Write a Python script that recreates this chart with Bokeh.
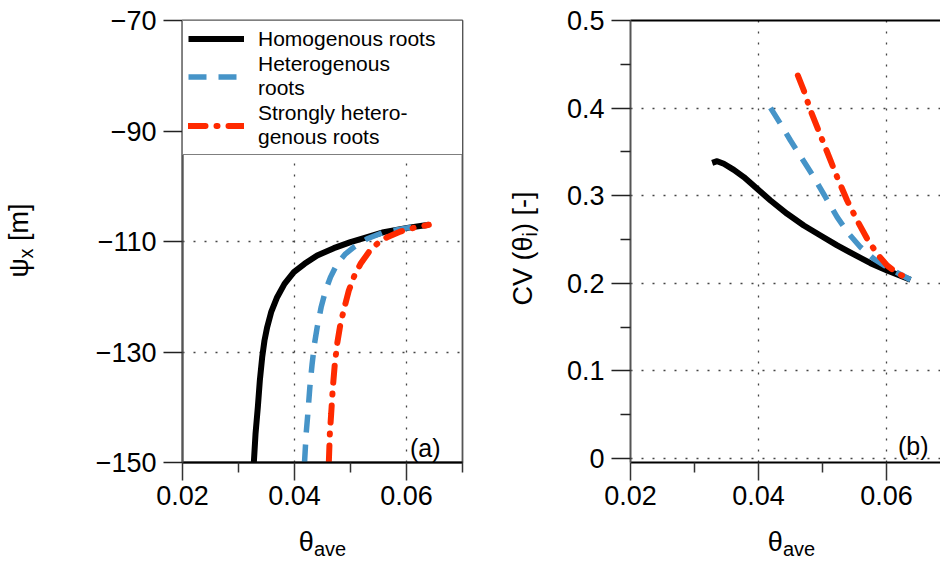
import math
from bokeh.plotting import figure
from bokeh.layouts import row
from bokeh.models import (Range1d, FixedTicker, Legend, LegendItem, Label, LinearAxis)
from bokeh.embed import file_html
from bokeh.resources import INLINE

FONT = "Liberation Sans"

# ---------------- data ----------------
# panel (a): psi_x [m] vs theta_ave
theta_homo_a = [0.03274, 0.03304, 0.03345, 0.03381, 0.03423, 0.03464, 0.03512, 0.03583, 0.03690, 0.03821,
                0.03988, 0.04179, 0.04405, 0.04702, 0.05000, 0.05298, 0.05595, 0.06012, 0.06399]
psi_homo = [-150.0, -144.81, -139.99, -135.16, -130.94, -127.92, -125.51, -122.79, -120.08, -117.66,
            -115.55, -114.04, -112.53, -111.21, -110.12, -109.22, -108.31, -107.53, -106.98]

theta_het_a = [0.04179, 0.04208, 0.04238, 0.04274, 0.04315, 0.04357, 0.04405, 0.04476, 0.04554, 0.04643,
               0.04762, 0.04911, 0.05060, 0.05298, 0.05595, 0.06012, 0.06399]
psi_het = [-150.0, -144.81, -141.19, -136.37, -132.14, -128.52, -125.51, -121.88, -118.87, -116.45,
           -114.04, -112.23, -111.02, -109.51, -108.31, -107.53, -106.98]

theta_shet_a = [0.04613, 0.04631, 0.04655, 0.04685, 0.04720, 0.04762, 0.04821, 0.04893, 0.04970, 0.05071,
                0.05179, 0.05327, 0.05476, 0.05655, 0.05893, 0.06131, 0.06399]
psi_shet = [-150.0, -144.81, -141.19, -136.37, -132.14, -128.52, -124.90, -121.88, -118.87, -116.15,
            -114.04, -111.93, -110.42, -109.22, -108.19, -107.53, -106.98]

# panel (b): CV(theta_i) [-] vs theta_ave
theta_homo_b = [0.03276, 0.03354, 0.03458, 0.03615, 0.03771, 0.03979, 0.04188, 0.04448, 0.04708, 0.04969,
                0.05229, 0.05490, 0.05750, 0.06010, 0.06375]
cv_homo = [0.3375, 0.3394, 0.3364, 0.3295, 0.3212, 0.3078, 0.2945, 0.2793, 0.2660, 0.2546,
           0.2432, 0.2329, 0.2230, 0.2146, 0.2040]

theta_het_b = [0.04188, 0.04344, 0.04500, 0.04682, 0.04865, 0.05047, 0.05229, 0.05411, 0.05594, 0.05802,
               0.06010, 0.06219, 0.06375]
cv_het = [0.4003, 0.3820, 0.3630, 0.3421, 0.3212, 0.2983, 0.2755, 0.2565, 0.2412, 0.2279,
          0.2184, 0.2100, 0.2040]

theta_shet_b = [0.04615, 0.04708, 0.04813, 0.04917, 0.05021, 0.05125, 0.05229, 0.05385, 0.05542, 0.05698,
                0.05854, 0.06010, 0.06167, 0.06375]
cv_shet = [0.4372, 0.4201, 0.3973, 0.3782, 0.3592, 0.3402, 0.3212, 0.2945, 0.2717, 0.2508,
           0.2336, 0.2203, 0.2116, 0.2040]

series_names = ["Homogenous roots", "Heterogenous\nroots", "Strongly hetero-\ngenous roots"]

x_ticks = [0.02, 0.04, 0.06]
x_minor_a = [0.03, 0.05, 0.07]
x_minor_b = [0.03, 0.05, 0.07]
psi_ticks = [-150, -130, -110, -90, -70]
psi_labels = {-150: "\u2212150", -130: "\u2212130", -110: "\u2212110", -90: "\u221290", -70: "\u221270"}
cv_ticks = [0.0, 0.1, 0.2, 0.3, 0.4, 0.5]
cv_minor = [0.05, 0.15, 0.25, 0.35, 0.45]
cv_labels = {0.0: "0", 0.1: "0.1", 0.2: "0.2", 0.3: "0.3", 0.4: "0.4", 0.5: "0.5"}
x_labels = {0.02: "0.02", 0.04: "0.04", 0.06: "0.06"}

# ---------------- styles ----------------
C_BLACK = "#000000"
C_BLUE = "#4694c8"
C_RED = "#ff2a00"
LW_BLACK = 6
LW_BLUE = 5.5
LW_RED = 6
DASH_BLUE = "18 12"
DASH_RED = "17 11 1 11"
GRID_DASH = "2 9"
TICK_FS = "27px"
AX_FS = 27
SUB_FS = 20
BASE_FIX = 12  # label anchor correction (px, towards the top of the glyphs)

# approximate Arial advance widths (em), used only to lay out title pieces
ADV = {"θ": 0.556, "a": 0.556, "v": 0.5, "e": 0.556, "ψ": 0.70, "x": 0.5, " ": 0.278,
       "[": 0.278, "]": 0.278, "m": 0.833, "C": 0.722, "V": 0.667, "(": 0.333, ")": 0.333,
       "i": 0.222, "-": 0.333}


def tw(s, size):
    return sum(ADV.get(ch, 0.556) for ch in s) * size


def style_axes(p):
    for ax in p.xaxis:
        ax.axis_line_color = "black"
        ax.axis_line_width = 1.8
        ax.major_tick_line_color = "#333333"
        ax.minor_tick_line_color = "#333333"
        ax.major_tick_line_width = 1.5
        ax.minor_tick_line_width = 1.5
        ax.major_tick_out = 18
        ax.major_tick_in = 0
        ax.minor_tick_out = 10
        ax.minor_tick_in = 0
        ax.major_label_standoff = 5
        ax.major_label_text_font = FONT
        ax.major_label_text_font_size = TICK_FS
        ax.major_label_text_color = "black"
    for ax in p.yaxis:
        ax.axis_line_color = "#555555"
        ax.axis_line_width = 2
        ax.major_tick_line_color = "#222222"
        ax.minor_tick_line_color = "#222222"
        ax.major_tick_line_width = 1.5
        ax.minor_tick_line_width = 1.5
        ax.major_tick_out = 19
        ax.major_tick_in = 0
        ax.minor_tick_out = 10
        ax.minor_tick_in = 0
        ax.major_label_standoff = 7
        ax.major_label_text_font = FONT
        ax.major_label_text_font_size = TICK_FS
        ax.major_label_text_color = "black"
    p.xgrid.grid_line_color = "#444444"
    p.ygrid.grid_line_color = "#444444"
    p.xgrid.grid_line_width = 1.3
    p.ygrid.grid_line_width = 1.3
    p.xgrid.grid_line_dash = GRID_DASH
    p.ygrid.grid_line_dash = GRID_DASH


def piece(p, side, text, size, x, y, angle=0.0):
    """A piece of an axis title, in canvas pixels, kept in a side panel so it is not clipped.
    (x, y) is the wanted baseline start of the piece."""
    if angle == 0.0:
        y = y - BASE_FIX
    else:
        x = x - BASE_FIX
    p.add_layout(Label(x=x, y=y, x_units="canvas", y_units="canvas", text=text,
                       text_font=FONT, text_font_size=f"{size}px", text_color="black",
                       angle=angle, text_align="left", text_baseline="alphabetic"), side)


# ---------------- panel (a) ----------------
W1 = 482
pa = figure(width=W1, height=566, output_backend="svg", toolbar_location=None,
            x_range=Range1d(0.02, 0.07), y_range=Range1d(-150, -70),
            min_border_left=182, min_border_right=W1 - 462, min_border_top=20, min_border_bottom=104,
            background_fill_color="white", border_fill_color="white")
pa.outline_line_color = "#555555"
pa.outline_line_width = 1.8
ra1 = pa.line(theta_homo_a, psi_homo, line_color=C_BLACK, line_width=LW_BLACK, line_join="round")
ra2 = pa.line(theta_het_a, psi_het, line_color=C_BLUE, line_width=LW_BLUE, line_dash=DASH_BLUE)
ra3 = pa.line(theta_shet_a, psi_shet, line_color=C_RED, line_width=LW_RED, line_dash=DASH_RED,
              line_cap="round")
pa.xaxis.ticker = FixedTicker(ticks=x_ticks, minor_ticks=x_minor_a)
pa.xaxis.major_label_overrides = x_labels
pa.yaxis.ticker = FixedTicker(ticks=psi_ticks, minor_ticks=[])
pa.yaxis.major_label_overrides = psi_labels
style_axes(pa)
pa.yaxis.minor_tick_line_color = None
pa.xgrid.ticker = FixedTicker(ticks=[0.04, 0.06])
pa.ygrid.ticker = FixedTicker(ticks=[-130, -110, -90])

legend = Legend(items=[LegendItem(label=series_names[0], renderers=[ra1]),
                       LegendItem(label=series_names[1], renderers=[ra2]),
                       LegendItem(label=series_names[2], renderers=[ra3])],
                location="top_left", margin=0, padding=5, spacing=1,
                glyph_width=56, glyph_height=25, label_standoff=14, label_width=200, label_height=25,
                label_text_font=FONT, label_text_font_size="21px", label_text_line_height=1.32,
                label_text_color="black",
                border_line_color="black", border_line_width=1.8,
                background_fill_color="white", background_fill_alpha=1.0)
pa.add_layout(legend)

# x title of (a): theta + subscript "ave"
xa0 = 322 - (tw("θ", AX_FS) + tw("ave", SUB_FS)) / 2
piece(pa, "right", "θ", AX_FS, xa0, 553)
piece(pa, "below", "ave", SUB_FS, xa0 + tw("θ", AX_FS), 560)
# y title of (a): psi + subscript "x" + " [m]" (rotated)
ya0 = 277
ya1 = ya0 - tw("ψ", AX_FS)
ya2 = ya1 - tw("x", SUB_FS) - tw(" ", AX_FS)
piece(pa, "left", "ψ", AX_FS, 30, ya0, math.pi / 2)
piece(pa, "left", "x", SUB_FS, 37, ya1, math.pi / 2)
piece(pa, "left", "[m]", AX_FS, 30, ya2, math.pi / 2)

pa.add_layout(Label(x=258, y=15, x_units="screen", y_units="screen", text="(a)", text_font=FONT,
                    text_font_size="25px", text_color="black", text_align="right",
                    text_baseline="alphabetic"))

# ---------------- panel (b) ----------------
W2 = 940 - W1
OX = W1  # canvas x offset of panel (b)
pb = figure(width=W2, height=566, output_backend="svg", toolbar_location=None,
            x_range=Range1d(0.02, 0.02 + (940 - 630) / 128 * 0.02), y_range=Range1d(-0.0046, 0.5),
            min_border_left=630 - W1, min_border_right=0, min_border_top=20, min_border_bottom=104,
            background_fill_color="white", border_fill_color="white")
pb.outline_line_color = None
pb.line(theta_homo_b, cv_homo, line_color=C_BLACK, line_width=LW_BLACK, line_join="round")
pb.line(theta_het_b, cv_het, line_color=C_BLUE, line_width=LW_BLUE, line_dash=DASH_BLUE)
pb.line(theta_shet_b, cv_shet, line_color=C_RED, line_width=LW_RED, line_dash=DASH_RED,
        line_cap="round")
pb.xaxis.ticker = FixedTicker(ticks=x_ticks, minor_ticks=x_minor_b)
pb.xaxis.major_label_overrides = x_labels
pb.yaxis.ticker = FixedTicker(ticks=cv_ticks, minor_ticks=cv_minor)
pb.yaxis.major_label_overrides = cv_labels
style_axes(pb)
pb.xgrid.ticker = FixedTicker(ticks=[0.04, 0.06])
pb.ygrid.ticker = FixedTicker(ticks=cv_ticks)
top_axis = LinearAxis(ticker=FixedTicker(ticks=[], minor_ticks=[]), axis_line_color="black",
                      axis_line_width=1.8, major_tick_line_color=None, minor_tick_line_color=None)
pb.add_layout(top_axis, "above")

xb0 = 791 - OX - (tw("θ", AX_FS) + tw("ave", SUB_FS)) / 2
piece(pb, "left", "θ", AX_FS, xb0, 553)
piece(pb, "below", "ave", SUB_FS, xb0 + tw("θ", AX_FS), 560)
yb0 = 305
bx = 534 - OX
yb1 = yb0 - tw("CV (θ", AX_FS)
piece(pb, "left", "CV (θ", AX_FS, bx, yb0, math.pi / 2)
piece(pb, "below", "i", SUB_FS, bx + 7, yb1, math.pi / 2)
piece(pb, "left", ") [-]", AX_FS, bx, yb1 - tw("i", SUB_FS), math.pi / 2)

pb.add_layout(Label(x=298, y=17, x_units="screen", y_units="screen", text="(b)", text_font=FONT,
                    text_font_size="25px", text_color="black", text_align="right",
                    text_baseline="alphabetic"))

layout = row(pa, pb)
open("out.html", "w").write(file_html(layout, INLINE))
